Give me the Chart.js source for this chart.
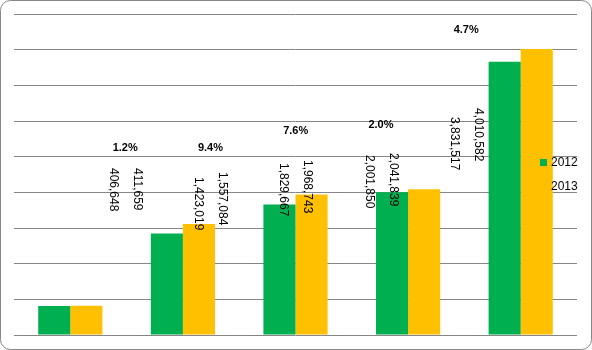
<!DOCTYPE html>
<html>
<head>
<meta charset="utf-8">
<script src="https://cdn.jsdelivr.net/npm/chart.js@4/dist/chart.umd.min.js"></script>
<style>
  html, body { margin: 0; padding: 0; background: #fff; }
  #wrap { width: 592px; height: 350px; }
</style>
</head>
<body>
<div id="wrap"><canvas id="chart" width="592" height="350"></canvas></div>
<script>
// Data
const categories = ['A', 'B', 'C', 'D', 'E'];
const seriesNames = ['2012', '2013'];
const values2012 = [406648, 1423019, 1829667, 2001850, 3831517];
const values2013 = [411659, 1557084, 1968743, 2041839, 4010582];
const growthLabels = ['1.2%', '9.4%', '7.6%', '2.0%', '4.7%'];
const seriesColors = ['#00B050', '#FFC000'];

// Label layout (Excel placed the value labels off the bars)
const labelTop = [[168, 168], [177, 172], [163, 160], [155, 153], [117, 108]];
const growthY = [148, 148, 131, 125, 30];

function fmt(v) {
    return v.toLocaleString('en-US');
}

// Frame + background
const framePlugin = {
    id: 'frame',
    beforeDraw(chart) {
        const ctx = chart.ctx;
        const w = chart.width, h = chart.height, r = 10;
        ctx.save();
        ctx.fillStyle = '#fff';
        ctx.fillRect(0, 0, w, h);
        ctx.beginPath();
        ctx.moveTo(0.5 + r, 0.5);
        ctx.lineTo(w - 0.5 - r, 0.5);
        ctx.arcTo(w - 0.5, 0.5, w - 0.5, 0.5 + r, r);
        ctx.lineTo(w - 0.5, h - 0.5 - r);
        ctx.arcTo(w - 0.5, h - 0.5, w - 0.5 - r, h - 0.5, r);
        ctx.lineTo(0.5 + r, h - 0.5);
        ctx.arcTo(0.5, h - 0.5, 0.5, h - 0.5 - r, r);
        ctx.lineTo(0.5, 0.5 + r);
        ctx.arcTo(0.5, 0.5, 0.5 + r, 0.5, r);
        ctx.closePath();
        ctx.strokeStyle = '#868686';
        ctx.lineWidth = 1;
        ctx.stroke();
        ctx.restore();
    }
};

// Value labels, growth labels and legend
const labelPlugin = {
    id: 'labels',
    afterDatasetsDraw(chart) {
        const ctx = chart.ctx;
        const xScale = chart.scales.x;
        const all = [values2012, values2013];
        ctx.save();
        ctx.fillStyle = '#000';
        categories.forEach((c, i) => {
            const center = 0.757 * xScale.getPixelForValue(i) + 72;
            // growth percent
            ctx.font = 'bold 11px "Liberation Sans", Arial, sans-serif';
            ctx.textAlign = 'center';
            ctx.textBaseline = 'middle';
            ctx.fillText(growthLabels[i], center, growthY[i]);
            // rotated value labels
            ctx.font = '12px "Liberation Sans", Arial, sans-serif';
            all.forEach((vals, s) => {
                const x = center + (s === 0 ? -12 : 12);
                ctx.save();
                ctx.translate(x, labelTop[i][s]);
                ctx.rotate(Math.PI / 2);
                ctx.textAlign = 'left';
                ctx.textBaseline = 'middle';
                ctx.fillText(fmt(vals[i]), 0, 0);
                ctx.restore();
            });
        });

        // legend (only the first entry shows its marker)
        ctx.font = '12px "Liberation Sans", Arial, sans-serif';
        ctx.textAlign = 'left';
        ctx.textBaseline = 'middle';
        seriesNames.forEach((name, s) => {
            const y = 163 + s * 24;
            if (s === 0) {
                ctx.fillStyle = seriesColors[s];
                ctx.fillRect(540, y - 4, 7, 7);
            }
            ctx.fillStyle = '#000';
            ctx.fillText(name, 551, y);
        });
        ctx.restore();
    }
};

new Chart(document.getElementById('chart'), {
    type: 'bar',
    data: {
        labels: categories,
        datasets: [
            {
                label: seriesNames[0],
                data: values2012,
                backgroundColor: seriesColors[0],
                categoryPercentage: 0.57,
                barPercentage: 1.0
            },
            {
                label: seriesNames[1],
                data: values2013,
                backgroundColor: seriesColors[1],
                categoryPercentage: 0.57,
                barPercentage: 1.0
            }
        ]
    },
    options: {
        responsive: false,
        animation: false,
        layout: {
            padding: { left: 14, right: 15, top: 14, bottom: 15 }
        },
        plugins: {
            legend: { display: false },
            tooltip: { enabled: false }
        },
        scales: {
            x: {
                display: false
            },
            y: {
                min: 0,
                max: 4500000,
                ticks: { display: false, stepSize: 500000 },
                grid: { color: '#868686', lineWidth: 1, drawTicks: false },
                border: { display: false }
            }
        }
    },
    plugins: [framePlugin, labelPlugin]
});
</script>
</body>
</html>
